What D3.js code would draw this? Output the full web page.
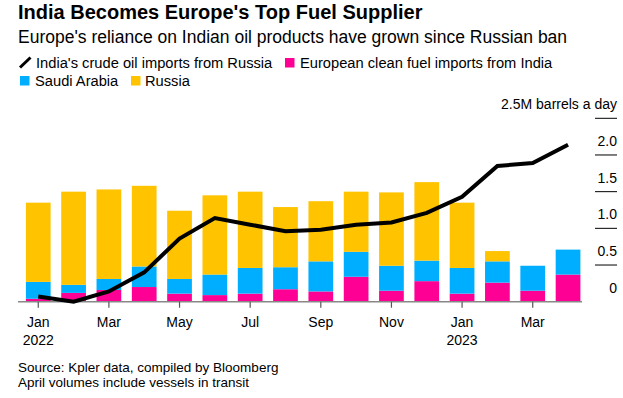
<!DOCTYPE html>
<html>
<head>
<meta charset="utf-8">
<script src="https://cdn.jsdelivr.net/npm/d3@7"></script>
<style>
  body { margin: 0; background: #fff; }
  svg text { font-family: "Liberation Sans", Arial, sans-serif; fill: #000; }
</style>
</head>
<body>
<div class="chart"></div>
<script>
// months Jan 2022 .. Apr 2023
var months = ["2022-01","2022-02","2022-03","2022-04","2022-05","2022-06","2022-07","2022-08",
              "2022-09","2022-10","2022-11","2022-12","2023-01","2023-02","2023-03","2023-04"];
var monthNames = ["Jan","Feb","Mar","Apr","May","Jun","Jul","Aug","Sep","Oct","Nov","Dec"];

// European clean fuel imports (M barrels a day)
var fromIndia  = [0.04, 0.12, 0.16, 0.20, 0.11, 0.09, 0.11, 0.17, 0.14, 0.34, 0.15, 0.28, 0.11, 0.26, 0.15, 0.37];
var fromSaudi  = [0.23, 0.11, 0.15, 0.28, 0.20, 0.28, 0.35, 0.30, 0.41, 0.34, 0.34, 0.28, 0.35, 0.29, 0.34, 0.34];
var fromRussia = [1.08, 1.27, 1.22, 1.10, 0.93, 1.08, 1.04, 0.82, 0.82, 0.82, 1.00, 1.07, 0.89, 0.14, 0.00, 0.00];

// India's crude oil imports from Russia
var indiaCrude = [0.07, 0.00, 0.14, 0.40, 0.86, 1.14, 1.05, 0.96, 0.98, 1.05, 1.08, 1.21, 1.43, 1.85, 1.89, 2.14];

var yTickLines = [0.5, 1, 1.5, 2, 2.5];
var yTickLabels = [0, 0.5, 1, 1.5, 2];

var colors = { india: "#ff0094", saudi: "#00aeff", russia: "#ffc300" };

var width = 623, height = 398;

var svg = d3.select(".chart").append("svg")
  .attr("width", width).attr("height", height);

// scales
var x = d3.scaleBand().domain(months)
  .range([20.6, 585.7])
  .paddingInner(0.3).paddingOuter(0.15);
var y = d3.scaleLinear().domain([0, 2.5]).range([301.7, 118.3]);

// header
svg.append("text").attr("x", 18).attr("y", 19)
  .style("font-size", "20px").style("font-weight", "bold")
  .text("India Becomes Europe's Top Fuel Supplier");
svg.append("text").attr("x", 18).attr("y", 42.5)
  .style("font-size", "17.5px")
  .text("Europe's reliance on Indian oil products have grown since Russian ban");

// legend
var legend = svg.append("g").style("font-size", "14.7px");
legend.append("line").attr("x1", 20).attr("y1", 67.5).attr("x2", 30.5).attr("y2", 57.5)
  .attr("stroke", "#000").attr("stroke-width", 3);
legend.append("text").attr("x", 36).attr("y", 67.5).text("India's crude oil imports from Russia");
legend.append("rect").attr("x", 285).attr("y", 58).attr("width", 9.5).attr("height", 9.5).attr("fill", colors.india);
legend.append("text").attr("x", 300).attr("y", 67.5).text("European clean fuel imports from India");
legend.append("rect").attr("x", 20).attr("y", 76).attr("width", 9.5).attr("height", 9.5).attr("fill", colors.saudi);
legend.append("text").attr("x", 35).attr("y", 85.5).text("Saudi Arabia");
legend.append("rect").attr("x", 131).attr("y", 76).attr("width", 9.5).attr("height", 9.5).attr("fill", colors.russia);
legend.append("text").attr("x", 145).attr("y", 85.5).text("Russia");

// right axis
var yAxis = svg.append("g");
yAxis.selectAll("line.tick").data(yTickLines).enter().append("line")
  .attr("class", "tick")
  .attr("x1", 595).attr("x2", 617)
  .attr("y1", function (d) { return y(d); }).attr("y2", function (d) { return y(d); })
  .attr("stroke", "#000").attr("stroke-width", 1);
yAxis.selectAll("text.lbl").data(yTickLabels).enter().append("text")
  .attr("class", "lbl")
  .attr("x", 617).attr("y", function (d) { return y(d) - 9; })
  .attr("text-anchor", "end").style("font-size", "14px")
  .text(function (d) { return d === 0 ? "0" : d3.format(".1f")(d); });
yAxis.append("text").attr("x", 617).attr("y", y(2.5) - 9)
  .attr("text-anchor", "end").style("font-size", "14px")
  .text("2.5M barrels a day");

// stacked bars
var rows = months.map(function (m, i) {
  return { month: m, india: fromIndia[i], saudi: fromSaudi[i], russia: fromRussia[i] };
});
var stack = d3.stack().keys(["india", "saudi", "russia"]);
var layers = stack(rows);

svg.append("g").selectAll("g").data(layers).enter().append("g")
  .attr("fill", function (d) { return colors[d.key]; })
  .selectAll("rect").data(function (d) { return d; }).enter().append("rect")
  .attr("x", function (d) { return x(d.data.month); })
  .attr("width", x.bandwidth())
  .attr("y", function (d) { return y(d[1]); })
  .attr("height", function (d) { return y(d[0]) - y(d[1]); });

// baseline
svg.append("line").attr("x1", 18).attr("x2", 582)
  .attr("y1", y(0)).attr("y2", y(0))
  .attr("stroke", "#888").attr("stroke-width", 1.5);

// x axis (every other month)
var xTicks = months.filter(function (m, i) { return i % 2 === 0; });
var xAxis = svg.append("g").attr("transform", "translate(0," + y(0) + ")")
  .call(d3.axisBottom(x).tickValues(xTicks).tickSize(6).tickPadding(4)
    .tickFormat(function (m) { return monthNames[+m.slice(5) - 1]; }));
xAxis.select(".domain").remove();
xAxis.selectAll(".tick line").attr("stroke", "#555").attr("stroke-width", 1.2);
xAxis.selectAll(".tick text")
  .attr("y", 25).attr("dy", null)
  .style("font-size", "14px").style("font-family", "Liberation Sans, Arial, sans-serif")
  .attr("fill", "#000")
  .each(function (m) {
    if (m.slice(5) === "01") {
      d3.select(this.parentNode).append("text")
        .attr("y", 43.3).attr("text-anchor", "middle")
        .style("font-size", "14px").attr("fill", "#000")
        .text(m.slice(0, 4));
    }
  });

// line
var line = d3.line()
  .x(function (d, i) { return x(months[i]) + x.bandwidth() / 2; })
  .y(function (d) { return y(d); });
svg.append("path").datum(indiaCrude)
  .attr("d", line)
  .attr("fill", "none").attr("stroke", "#000").attr("stroke-width", 4);

// footer
svg.append("text").attr("x", 18).attr("y", 371.7).style("font-size", "13.5px")
  .text("Source: Kpler data, compiled by Bloomberg");
svg.append("text").attr("x", 18).attr("y", 386.7).style("font-size", "13.5px")
  .text("April volumes include vessels in transit");
</script>
</body>
</html>
